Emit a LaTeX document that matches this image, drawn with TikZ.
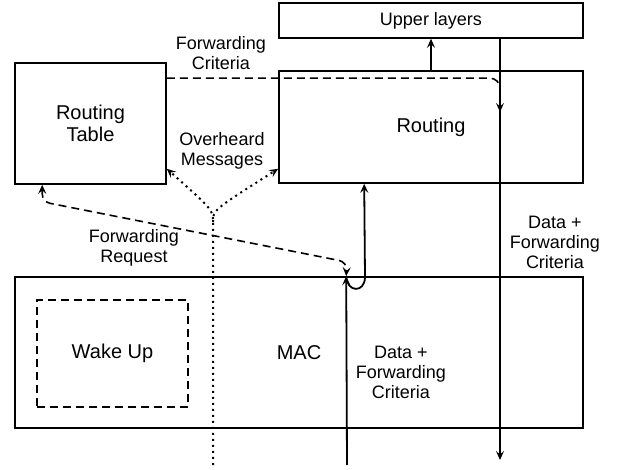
\documentclass[tikz,border=0pt]{standalone}
\usepackage{fontspec}
\setmainfont{Liberation Sans}
\usetikzlibrary{arrows.meta, calc}
\tikzset{
  layer/.style={draw, line width=1.6pt, inner sep=0pt, align=center, font=\fontsize{20}{22}\selectfont},
  lbl/.style={inner sep=0pt, align=center, font=\fontsize{18}{20}\selectfont},
  tip/.style={-{Stealth[length=9pt,width=8pt,inset=3.5pt]}},
  flow/.style={line width=1.8pt, tip},
  ctrl/.style={line width=1.6pt, dash pattern=on 8pt off 5pt, tip},
  heard/.style={line width=2pt, dash pattern=on 2pt off 4pt, tip}
}
\begin{document}
\begin{tikzpicture}[x=1pt,y=-1pt]
  \useasboundingbox (0,0) rectangle (619,470);
  % livelli
  \node[layer, minimum width=304pt, minimum height=35pt, font=\fontsize{18}{20}\selectfont] (ul) at (431,20.5) {Upper layers};
  \node[layer, minimum width=304pt, minimum height=112pt] (routing) at (431,127) {Routing};
  \node[layer, minimum width=151pt, minimum height=121pt] (rt) at (90.5,123.5) {Routing\\Table};
  \node[layer, minimum width=568pt, minimum height=151pt] (mac) at (299,352.5) {MAC};
  \node[layer, dash pattern=on 8pt off 5pt, minimum width=151pt, minimum height=107pt] (wake) at (112.5,353.5) {Wake Up};
  % punti liberi
  \coordinate (macin) at ([xshift=332pt]mac.north west);
  \coordinate (inbot) at (347,465);
  \coordinate (dataout) at (500,460);
  \coordinate (fcend) at (500,112);
  \coordinate (ohbot) at (213,465);
  % frecce
  \draw[flow] (routing.north) -- (ul.south);
  \draw[line width=1.3pt, tip] (ul.south -| dataout) -- (dataout);
  \draw[ctrl, rounded corners=10pt] ([yshift=-16pt]rt.north east) -| (fcend);
  \draw[ctrl, {Stealth[length=9pt,width=8pt,inset=3.5pt]}-{Stealth[length=9pt,width=8pt,inset=3.5pt]}, rounded corners=8pt]
    ([xshift=28pt]rt.south west) -- ++(0,17) -- (347,262) -- (macin);
  \draw[flow] (inbot) -- (macin);
  \draw[flow] (macin) .. controls (347,293) and (365,293) .. (365,277) -- ([xshift=86pt]routing.south west);
  \draw[heard] (ohbot) -- (213,222) .. controls (213,210) .. ([yshift=16pt]rt.south east);
  \draw[heard] (213,222) .. controls (213,210) .. ([yshift=15pt]routing.south west);
  % etichette
  \node[lbl] (fclbl) at (221,53) {Forwarding\\Criteria};
  \node[lbl] (ohlbl) at (222,151) {Overheard\\Messages};
  \node[lbl] (frlbl) at (134,248) {Forwarding\\Request};
  \node[lbl] (dfout) at (555,242) {Data +\\Forwarding\\Criteria};
  \node[lbl] (dfin) at (401,372) {Data +\\Forwarding\\Criteria};
\end{tikzpicture}
\end{document}
